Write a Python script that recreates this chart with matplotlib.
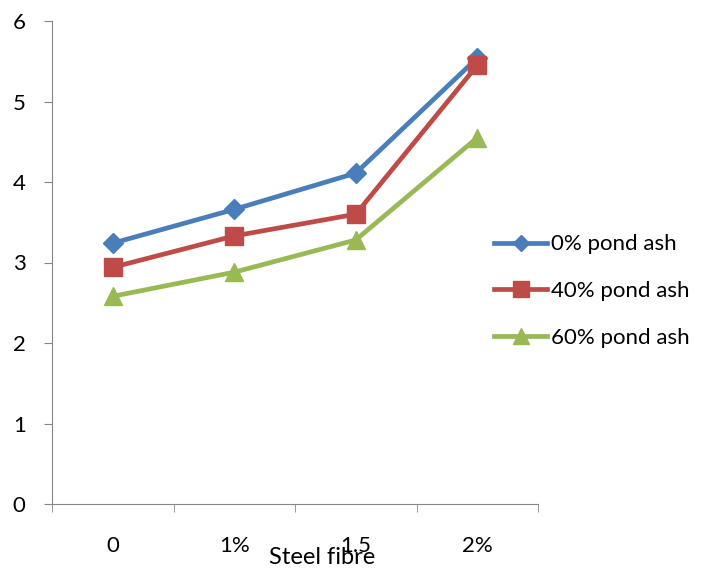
import matplotlib
matplotlib.use("Agg")
import matplotlib.pyplot as plt

categories = ["0", "1%", "1.5", "2%"]
series_names = ["0% pond ash", "40% pond ash", "60% pond ash"]
pond0 = [3.24, 3.66, 4.11, 5.54]
pond40 = [2.94, 3.33, 3.60, 5.45]
pond60 = [2.58, 2.88, 3.28, 4.55]
yticks = [0, 1, 2, 3, 4, 5, 6]

plt.rcParams['font.family'] = ['Lato', 'DejaVu Sans']

fig = plt.figure(figsize=(7.01, 5.68), dpi=100)
ax = fig.add_axes([52/701, 1-504/568, (538-52)/701, (504-21)/568])

x = list(range(len(categories)))
colors = ["#4A7EBB", "#BE4B48", "#98B954"]
markers = ["D", "s", "^"]
msizes = [10, 13, 13]
for vals, name, c, m, ms in zip([pond0, pond40, pond60], series_names, colors, markers, msizes):
    ax.plot(x, vals, color=c, lw=3.4, marker=m, markersize=ms, label=name,
            markeredgecolor=c)

ax.set_xlim(-0.5, len(categories) - 0.5)
ax.set_ylim(0, 6)
ax.set_yticks(yticks)
ax.set_yticklabels([str(v) for v in yticks], fontsize=16)
ax.set_xticks(x)
ax.set_xticklabels(categories, fontsize=16)
ax.set_xticks([i - 0.5 for i in range(len(categories) + 1)], minor=True)
ax.tick_params(axis='x', which='major', length=0, pad=23)
ax.tick_params(axis='x', which='minor', length=6, color='#868686', direction='out')
ax.tick_params(axis='y', length=6, color='#868686', direction='out', pad=13)

for s in ['top', 'right']:
    ax.spines[s].set_visible(False)
for s in ['left', 'bottom']:
    ax.spines[s].set_color('#868686')

fig.text(322/701, 1-558/568, "Steel fibre", fontsize=17, ha='center', va='center')

leg = fig.legend(loc='center left', bbox_to_anchor=(474/701, 1-291/568), frameon=False,
                 fontsize=16, handlelength=2.4, labelspacing=1.2, handletextpad=0.15,
                 markerscale=0.85)

fig.savefig("out.png", dpi=100)
